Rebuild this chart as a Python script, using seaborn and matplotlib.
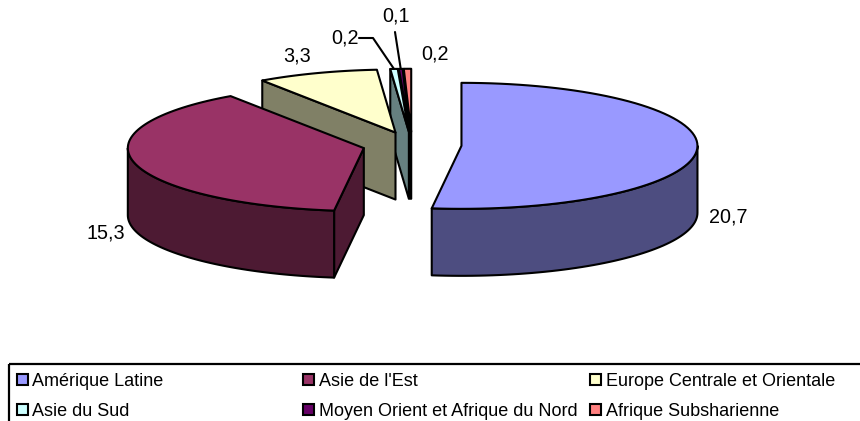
"""Camembert 3D eclate (style Excel) dessine avec des polygones."""
import matplotlib
matplotlib.use("Agg")
import matplotlib.pyplot as plt
import numpy as np
import seaborn as sns
from matplotlib.patches import Polygon, Rectangle

regions = [
    "Amérique Latine",
    "Asie de l'Est",
    "Europe Centrale et Orientale",
    "Asie du Sud",
    "Moyen Orient et Afrique du Nord",
    "Afrique Subsharienne",
]
values = [20.7, 15.3, 3.3, 0.2, 0.1, 0.2]
colors = ["#9999FF", "#993366", "#FFFFCC", "#CCFFFF", "#660066", "#FF8080"]

# position des etiquettes (en pixels)
label_pos = [(728, 217), (106, 233), (297, 56), (345, 38), (396, 16), (435, 54)]

CX, CY = 412, 145
RX, RY = 236, 63
DEPTH = 67
EXPLODE = 0.21
LW = 1.5

sns.set_theme(style="white")
plt.rcParams["font.family"] = ["Liberation Sans", "DejaVu Sans"]
palette = sns.color_palette(colors)


def rim(cx, cy, angles):
    a = np.radians(angles)
    return np.column_stack([cx + RX * np.sin(a), cy - RY * np.cos(a)])


def draw_slice(ax, start, end, color):
    mid = np.radians((start + end) / 2)
    cx = CX + EXPLODE * RX * np.sin(mid)
    cy = CY - EXPLODE * RY * np.cos(mid)
    apex = np.array([[cx, cy]])
    dark = tuple(np.array(color) * 0.5)
    down = np.array([0, DEPTH])
    kw = dict(edgecolor="black", lw=LW, joinstyle="round")

    # faces de coupe visibles
    for ang, visible in [(start, np.sin(np.radians(start)) < -1e-6),
                         (end, np.sin(np.radians(end)) > 1e-6)]:
        if visible:
            p = rim(cx, cy, [ang])
            face = np.vstack([apex, p, p + down, apex + down])
            ax.add_patch(Polygon(face, facecolor=dark, **kw))

    # paroi exterieure (moitie avant seulement)
    lo, hi = max(start, 90), min(end, 270)
    if hi > lo:
        pts = rim(cx, cy, np.linspace(lo, hi, 60))
        ax.add_patch(Polygon(np.vstack([pts, pts[::-1] + down]),
                             facecolor=dark, **kw))

    # dessus
    pts = rim(cx, cy, np.linspace(start, end, 80))
    ax.add_patch(Polygon(np.vstack([apex, pts]), facecolor=color, **kw))
    return cx, cy


fig, ax = plt.subplots(figsize=(8.6, 4.21), dpi=100)
fig.subplots_adjust(0, 0, 1, 1)
ax.set_xlim(0, 860)
ax.set_ylim(421, 0)
ax.axis("off")

edges = np.cumsum([0] + values) / sum(values) * 360
centers = {}
# de l'arriere vers l'avant
for i in reversed(range(len(values))):
    centers[i] = draw_slice(ax, edges[i], edges[i + 1], palette[i])

# etiquettes
for v, (x, y) in zip(values, label_pos):
    ax.text(x, y, f"{v:.1f}".replace(".", ","), fontsize=14.2,
            ha="center", va="center", color="black")

# traits de rappel des deux petites parts
p3 = rim(*centers[3], [(edges[3] + edges[4]) / 2])[0]
p4 = rim(*centers[4], [(edges[4] + edges[5]) / 2])[0]
ax.plot([359, 373, p3[0]], [38, 38, p3[1]], color="black", lw=LW)
ax.plot([395, p4[0]], [32, p4[1]], color="black", lw=LW)

# legende, cadre coupe par le bord de l'image
ax.add_patch(Rectangle((9, 364), 900, 100, fill=False, edgecolor="black", lw=1.6))
for i, name in enumerate(regions):
    col, row = i % 3, i // 3
    x = 16.5 + col * 286.5
    y = 373.5 + row * 30
    ax.add_patch(Rectangle((x, y), 11, 11, facecolor=palette[i],
                           edgecolor="black", lw=LW))
    ax.text(x + 16, y + 5.5, name, fontsize=13.0, ha="left", va="center_baseline",
            color="black")

fig.savefig("out.png", dpi=100)
